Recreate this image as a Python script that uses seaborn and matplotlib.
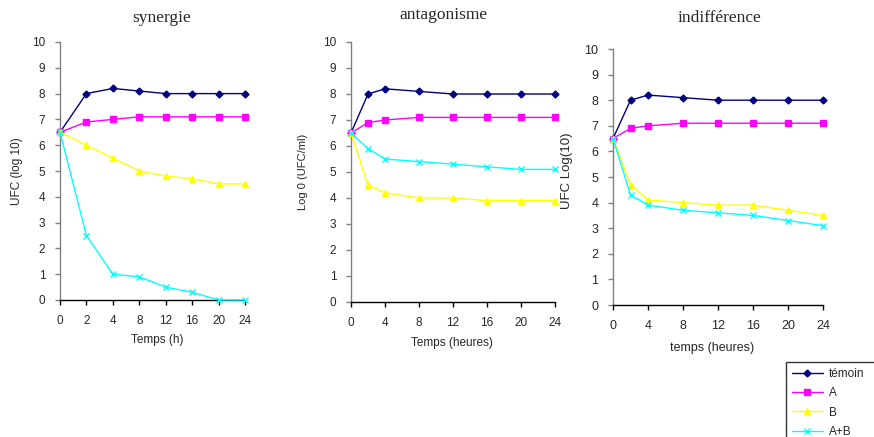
import matplotlib
matplotlib.use("Agg")
import matplotlib.pyplot as plt
import pandas as pd
import seaborn as sns
from matplotlib.lines import Line2D

# time points (hours)
hours = [0, 2, 4, 8, 12, 16, 20, 24]

temoin = [6.5, 8.0, 8.2, 8.1, 8.0, 8.0, 8.0, 8.0]
serie_a = [6.5, 6.9, 7.0, 7.1, 7.1, 7.1, 7.1, 7.1]

syn_b = [6.5, 6.0, 5.5, 5.0, 4.8, 4.7, 4.5, 4.5]
syn_ab = [6.5, 2.5, 1.0, 0.9, 0.5, 0.3, 0.0, 0.0]

ant_b = [6.5, 4.5, 4.2, 4.0, 4.0, 3.9, 3.9, 3.9]
ant_ab = [6.5, 5.9, 5.5, 5.4, 5.3, 5.2, 5.1, 5.1]

ind_b = [6.5, 4.7, 4.1, 4.0, 3.9, 3.9, 3.7, 3.5]
ind_ab = [6.5, 4.3, 3.9, 3.7, 3.6, 3.5, 3.3, 3.1]

series_names = ["témoin", "A", "B", "A+B"]
colors = ["#000080", "#FF00FF", "#FFFF00", "#00FFFF"]
markers = ["D", "s", "^", "x"]
msizes = [3.5, 4.5, 4.5, 4.5]

sns.set_style("white")
plt.rcParams["font.family"] = ["Liberation Sans", "DejaVu Sans"]

W, H = 874, 437
fig = plt.figure(figsize=(W / 100, H / 100), dpi=100)


def rect(x0, y_top, x1, y_bot):
    return [x0 / W, 1 - y_bot / H, (x1 - x0) / W, (y_bot - y_top) / H]


def draw(ax, x, b, ab, tick_size):
    df = pd.DataFrame({"x": x, "témoin": temoin, "A": serie_a, "B": b, "A+B": ab})
    for name, c, m, ms in zip(series_names, colors, markers, msizes):
        sns.lineplot(data=df, x="x", y=name, ax=ax, color=c, marker=m,
                     markersize=ms, markeredgecolor=c, markeredgewidth=1.0,
                     linewidth=1.0, clip_on=False, zorder=3)
    ax.set_ylim(0, 10)
    ax.set_yticks(range(0, 11))
    ax.set_xlabel("")
    ax.set_ylabel("")
    sns.despine(ax=ax)
    ax.spines["left"].set_color("#808080")
    ax.spines["bottom"].set_color("black")
    for s in ("left", "bottom"):
        ax.spines[s].set_linewidth(1.0)
        ax.spines[s].set_zorder(1)
    ax.tick_params(axis="y", direction="out", length=3.5, width=1.0,
                   color="#808080", pad=7, labelsize=tick_size, left=True)
    ax.tick_params(axis="x", direction="out", length=3.5, width=1.0,
                   color="black", pad=7, labelsize=tick_size, bottom=True)
    ax.set_facecolor("white")


# synergie: categorical time axis
ax1 = fig.add_axes(rect(60, 42, 245, 300))
cat_pos = list(range(len(hours)))
draw(ax1, cat_pos, syn_b, syn_ab, 8.5)
ax1.set_xlim(0, len(hours) - 1)
ax1.set_xticks(cat_pos)
ax1.set_xticklabels([str(h) for h in hours])

# antagonisme
ax2 = fig.add_axes(rect(351, 42, 555, 302))
draw(ax2, hours, ant_b, ant_ab, 8.5)
ax2.set_xlim(0, 24)
ax2.set_xticks(range(0, 25, 4))

# indifference
ax3 = fig.add_axes(rect(613, 49, 823, 305))
draw(ax3, hours, ind_b, ind_ab, 9)
ax3.set_xlim(0, 24)
ax3.set_xticks(range(0, 25, 4))

# titles
serif = ["Liberation Serif", "DejaVu Serif"]
fig.text(162 / W, 1 - 18 / H, "synergie", ha="center", va="center", fontsize=12.5, family=serif)
fig.text(443 / W, 1 - 15 / H, "antagonisme", ha="center", va="center", fontsize=12.5, family=serif)
fig.text(720 / W, 1 - 18 / H, "indifférence", ha="center", va="center", fontsize=12.5, family=serif)

# axis labels
fig.text(157 / W, 1 - 340 / H, "Temps (h)", ha="center", va="center", fontsize=8.5)
fig.text(452 / W, 1 - 343 / H, "Temps (heures)", ha="center", va="center", fontsize=8.5)
fig.text(712 / W, 1 - 348 / H, "temps (heures)", ha="center", va="center", fontsize=9)
fig.text(17 / W, 1 - 171 / H, "UFC (log 10)", ha="center", va="center", rotation=90, fontsize=8.5)
fig.text(303 / W, 1 - 172 / H, "Log 0 (UFC/ml)", ha="center", va="center", rotation=90, fontsize=8)
fig.text(567 / W, 1 - 171 / H, "UFC Log(10)", ha="center", va="center", rotation=90, fontsize=9.5)

# legend, running off the right and bottom edges as in the original
handles = [Line2D([], [], color=c, marker=m, markersize=ms, markeredgecolor=c,
                  linewidth=1.0) for c, m, ms in zip(colors, markers, msizes)]
leg = fig.legend(handles, series_names, loc="upper left",
                 bbox_to_anchor=(786 / W, 1 - 362 / H - 0.3, 100 / W, 0.3),
                 mode="expand", fontsize=8.5,
                 frameon=True, fancybox=False, edgecolor="black",
                 handlelength=2.6, handletextpad=0.5, labelspacing=0.62,
                 borderpad=0.5, borderaxespad=0)
leg.get_frame().set_linewidth(1.0)

fig.savefig("out.png", dpi=100, facecolor="white")
